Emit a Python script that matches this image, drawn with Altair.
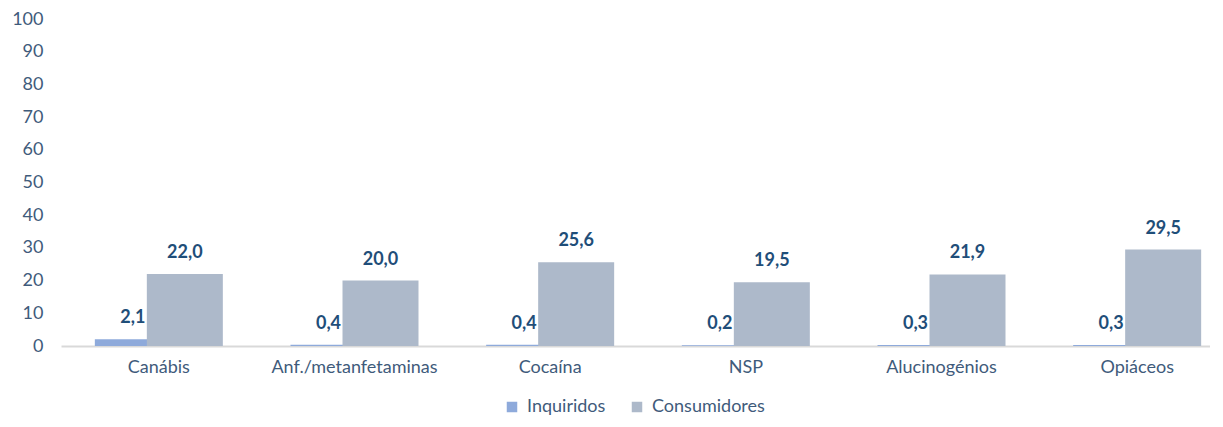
import altair as alt
import pandas as pd

categories = ["Canábis", "Anf./metanfetaminas", "Cocaína", "NSP", "Alucinogénios", "Opiáceos"]
inquiridos = [2.1, 0.4, 0.4, 0.2, 0.3, 0.3]
consumidores = [22.0, 20.0, 25.6, 19.5, 21.9, 29.5]
series = ["Inquiridos", "Consumidores"]
y_ticks = [0, 10, 20, 30, 40, 50, 60, 70, 80, 90, 100]

rows = []
for c, a, b in zip(categories, inquiridos, consumidores):
    rows.append({"cat": c, "serie": "Inquiridos", "v": a})
    rows.append({"cat": c, "serie": "Consumidores", "v": b})
df = pd.DataFrame(rows)

FONT = "Lato"
LABEL_COL = "#1f4e79"
AXIS_COL = "#3f5b7b"

x = alt.X("cat:N", sort=categories, title=None,
          scale=alt.Scale(range=[1, 1175], paddingInner=0, paddingOuter=0),
          axis=alt.Axis(labelAngle=0, ticks=False, domainColor="#d9d9d9", domainWidth=2,
                        labelFontSize=18, labelColor=AXIS_COL, labelFont=FONT, labelPadding=12))
y = alt.Y("v:Q", title=None,
          scale=alt.Scale(domain=[0, 100], nice=False),
          axis=alt.Axis(values=y_ticks, grid=False, ticks=False, domain=False,
                        labelFontSize=18, labelColor=AXIS_COL, labelFont=FONT, labelPadding=17))
color = alt.Color("serie:N", title=None,
                  scale=alt.Scale(domain=series, range=["#8eaadb", "#adb9ca"]),
                  legend=alt.Legend(orient="none", direction="horizontal", legendX=443, legendY=379,
                                    symbolType="square", symbolSize=110, symbolStrokeWidth=0,
                                    labelFontSize=18, labelColor=AXIS_COL, labelFont=FONT,
                                    columnPadding=22, labelOffset=6))

base = alt.Chart(df).transform_calculate(
    lbl="replace(format(datum.v, '.1f'), '.', ',')"
)

offsets = {"Inquiridos": -26, "Consumidores": 26}
layers = []
for s in series:
    sub = base.transform_filter(alt.datum.serie == s)
    layers.append(sub.mark_bar(width=76, xOffset=offsets[s]).encode(x=x, y=y, color=color))
for s in series:
    sub = base.transform_filter(alt.datum.serie == s)
    layers.append(sub.mark_text(xOffset=offsets[s], dy=-21, baseline="middle", align="center",
                                font=FONT, fontSize=18, fontWeight="bold", color=LABEL_COL)
                  .encode(x=x, y=y, text="lbl:N"))

chart = alt.layer(*layers).properties(
    width=1150, height=327,
    autosize=alt.AutoSizeParams(type="none"),
    padding={"left": 52, "top": 11, "right": 0, "bottom": 73},
).configure_view(stroke=None)

chart.save("out.html", embed_options={"renderer": "svg", "actions": False})
